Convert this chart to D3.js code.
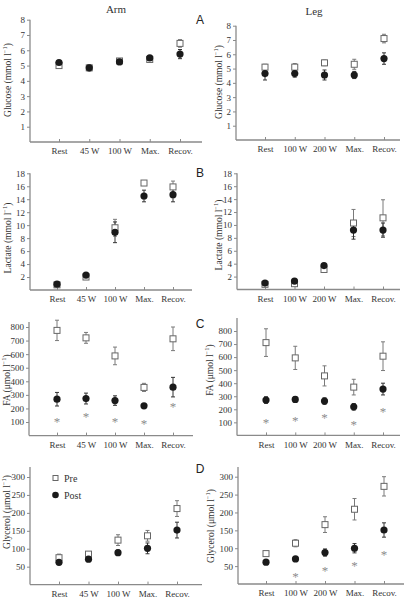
<!DOCTYPE html>
<html><head><meta charset="utf-8">
<script src="https://cdn.jsdelivr.net/npm/d3@7"></script>
<style>body{margin:0;background:#fff}svg{display:block}</style>
</head><body>
<svg id="c" width="408" height="598"></svg>
<script>
const armCategories = ["Rest", "45 W", "100 W", "Max.", "Recov."];
const legCategories = ["Rest", "100 W", "200 W", "Max.", "Recov."];

const glucoseTicks = [1,2,3,4,5,6,7,8];
const lactateTicks = [2,4,6,8,10,12,14,16,18];
const faTicks = [100,200,300,400,500,600,700,800];
const glycerolTicks = [50,100,150,200,250,300];

const armGlucosePre = [5.0, 4.85, 5.3, 5.4, 6.45];
const armGlucosePreErr = [0.1, 0.1, 0.15, 0.12, 0.25];
const armGlucosePost = [5.2, 4.85, 5.25, 5.5, 5.75];
const armGlucosePostErr = [0.1, 0.2, 0.2, 0.12, 0.3];

const legGlucosePre = [5.1, 5.1, 5.4, 5.3, 7.1];
const legGlucosePreErr = [0.2, 0.25, 0.2, 0.35, 0.3];
const legGlucosePost = [4.65, 4.65, 4.55, 4.55, 5.7];
const legGlucosePostErr = [0.45, 0.25, 0.35, 0.25, 0.4];

const armLactatePre = [0.8, 2.0, 9.6, 16.5, 15.9];
const armLactatePreErr = [0.1, 0.2, 1.3, 0.3, 0.9];
const armLactatePost = [0.9, 2.3, 8.9, 14.5, 14.7];
const armLactatePostErr = [0.1, 0.2, 1.6, 0.9, 1.1];

const legLactatePre = [0.8, 0.9, 3.1, 10.3, 11.1];
const legLactatePreErr = [0.2, 0.2, 0.3, 2.1, 2.8];
const legLactatePost = [1.0, 1.3, 3.7, 9.2, 9.2];
const legLactatePostErr = [0.3, 0.3, 0.3, 1.4, 1.1];

const armFAPre = [775, 720, 587, 355, 713];
const armFAPreErr = [75, 40, 65, 30, 87];
const armFAPost = [268, 273, 258, 219, 357];
const armFAPostErr = [50, 40, 35, 10, 72];
const armFASig = [125, 157, 125, 105, 233];

const legFAPre = [711, 594, 456, 370, 607];
const legFAPreErr = [106, 89, 77, 60, 110];
const legFAPost = [271, 276, 263, 219, 355];
const legFAPostErr = [25, 20, 25, 25, 45];
const legFASig = [117, 138, 155, 105, 207];

const armGlyPre = [75, 85, 124, 136, 212];
const armGlyPreErr = [10, 5, 15, 15, 22];
const armGlyPost = [62, 71, 89, 101, 152];
const armGlyPostErr = [5, 5, 7, 15, 22];
const armGlySig = [null, null, null, null, null];

const legGlyPre = [85, 114, 166, 209, 273];
const legGlyPreErr = [6, 10, 22, 30, 27];
const legGlyPost = [61, 70, 88, 100, 151];
const legGlyPostErr = [5, 5, 10, 13, 20];
const legGlySig = [null, 29, 46, 60, 90];

const svg = d3.select("#c");
const SERIF = "'Liberation Serif','Times New Roman',serif";
const AX = "#8a8a8a";

const panels = [
  {cats: armCategories, pre: armGlucosePre, preE: armGlucosePreErr, post: armGlucosePost, postE: armGlucosePostErr, sig: null,
   ticks: glucoseTicks, dom: [0, 8], yr: [142, 19.7], top: 19.7, ax: 30, xEnd: 202, xr: [59, 180],
   label: "Glucose (mmol l", lx: 8, ly: 80, letter: "A", lety: 24},
  {cats: legCategories, pre: legGlucosePre, preE: legGlucosePreErr, post: legGlucosePost, postE: legGlucosePostErr, sig: null,
   ticks: glucoseTicks, dom: [0, 8], yr: [140, 25.7], top: 25.7, ax: 236, xEnd: 400, xr: [265, 384],
   label: "Glucose (mmol l", lx: 219, ly: 82},
  {cats: armCategories, pre: armLactatePre, preE: armLactatePreErr, post: armLactatePost, postE: armLactatePostErr, sig: null,
   ticks: lactateTicks, dom: [0, 18], yr: [290, 173.3], top: 173.3, ax: 30, xEnd: 192, xr: [57, 173],
   label: "Lactate (mmol l", lx: 8, ly: 238, letter: "B", lety: 177},
  {cats: legCategories, pre: legLactatePre, preE: legLactatePreErr, post: legLactatePost, postE: legLactatePostErr, sig: null,
   ticks: lactateTicks, dom: [0, 18], yr: [289.5, 173.3], top: 173.3, ax: 237, xEnd: 400, xr: [265, 383],
   label: "Lactate (mmol l", lx: 219, ly: 235},
  {cats: armCategories, pre: armFAPre, preE: armFAPreErr, post: armFAPost, postE: armFAPostErr, sig: armFASig,
   ticks: faTicks, dom: [0, 800], yr: [435.6, 327], top: 322, ax: 29, xEnd: 193, xr: [57, 173],
   label: "FA (\u03bcmol l", lx: 6.5, ly: 380, letter: "C", lety: 328},
  {cats: legCategories, pre: legFAPre, preE: legFAPreErr, post: legFAPost, postE: legFAPostErr, sig: legFASig,
   ticks: faTicks, dom: [0, 800], yr: [435.4, 331], top: 318, ax: 237, xEnd: 400, xr: [266, 383],
   label: "FA (\u03bcmol l", lx: 210, ly: 370},
  {cats: armCategories, pre: armGlyPre, preE: armGlyPreErr, post: armGlyPost, postE: armGlyPostErr, sig: armGlySig,
   ticks: glycerolTicks, dom: [0, 300], yr: [584.6, 477], top: 467, ax: 30, xEnd: 202, xr: [59, 177],
   label: "Glycerol (\u03bcmol l", lx: 6.5, ly: 512, letter: "D", lety: 473, legend: true},
  {cats: legCategories, pre: legGlyPre, preE: legGlyPreErr, post: legGlyPost, postE: legGlyPostErr, sig: legGlySig,
   ticks: glycerolTicks, dom: [0, 300], yr: [584, 476.7], top: 467, ax: 238, xEnd: 404, xr: [266, 384],
   label: "Glycerol (\u03bcmol l", lx: 211, ly: 526}
];

svg.append("text").attr("x", 116).attr("y", 13).attr("text-anchor", "middle")
  .style("font-family", SERIF).style("font-size", "11px").attr("fill", "#333").text("Arm");
svg.append("text").attr("x", 314).attr("y", 15).attr("text-anchor", "middle")
  .style("font-family", SERIF).style("font-size", "11px").attr("fill", "#333").text("Leg");

panels.forEach(p => {
  const g = svg.append("g");
  const y = d3.scaleLinear().domain(p.dom).range(p.yr);
  const x = d3.scalePoint().domain(p.cats).range(p.xr);
  const y0 = y(0);

  // y axis
  const yAxis = d3.axisLeft(y).tickValues(p.ticks).tickSize(3).tickSizeOuter(0).tickPadding(2);
  const ya = g.append("g").attr("transform", `translate(${p.ax},0)`).call(yAxis);
  ya.attr("font-family", null).attr("font-size", null);
  ya.select(".domain").remove();
  ya.append("line").attr("x1", 0).attr("x2", 0).attr("y1", y0).attr("y2", p.top)
    .attr("stroke", AX).attr("stroke-width", 1.3);
  ya.selectAll(".tick line").attr("stroke", AX);
  ya.selectAll(".tick text").style("font-family", SERIF).style("font-size", "9px").attr("fill", "#333");

  // x axis
  const xAxis = d3.axisBottom(x).tickSize(-3).tickSizeOuter(0).tickPadding(6);
  const xa = g.append("g").attr("transform", `translate(0,${y0})`).call(xAxis);
  xa.attr("font-family", null).attr("font-size", null);
  xa.select(".domain").remove();
  xa.append("line").attr("x1", p.ax).attr("x2", p.xEnd).attr("y1", 0).attr("y2", 0)
    .attr("stroke", AX).attr("stroke-width", 1.3);
  xa.selectAll(".tick line").attr("stroke", AX);
  xa.selectAll(".tick text").style("font-family", SERIF).style("font-size", "9px").attr("fill", "#333")
    .attr("dy", "0.71em").attr("y", 6);

  // y label
  const lt = g.append("text").attr("transform", `translate(${p.lx},${p.ly}) rotate(-90)`)
    .attr("text-anchor", "middle").attr("dy", "0.35em")
    .style("font-family", SERIF).style("font-size", "9.5px").attr("fill", "#333");
  lt.append("tspan").text(p.label);
  lt.append("tspan").style("font-size", "6.5px").attr("dy", "-0.6em").text("\u22121");
  lt.append("tspan").style("font-size", "9.5px").attr("dy", "0.4em").text(")");

  if (p.letter) {
    svg.append("text").attr("x", 200).attr("y", p.lety).attr("text-anchor", "middle")
      .style("font-family", "'Liberation Sans',Arial,sans-serif").style("font-size", "12px")
      .attr("fill", "#222").text(p.letter);
  }

  const idx = d3.range(p.cats.length);
  const cap = 2;
  const drawErr = (vals, errs, color) => {
    idx.forEach(i => {
      const cx = x(p.cats[i]);
      const yt = y(vals[i] + errs[i]), yb = y(vals[i] - errs[i]);
      g.append("line").attr("x1", cx).attr("x2", cx).attr("y1", yt).attr("y2", yb)
        .attr("stroke", color).attr("stroke-width", 1);
      [yt, yb].forEach(yy => g.append("line").attr("x1", cx - cap).attr("x2", cx + cap)
        .attr("y1", yy).attr("y2", yy).attr("stroke", color).attr("stroke-width", 1));
    });
  };
  drawErr(p.pre, p.preE, "#7a7a7a");
  drawErr(p.post, p.postE, "#333");

  g.selectAll("rect.pre").data(idx).enter().append("rect").attr("class", "pre")
    .attr("x", i => x(p.cats[i]) - 3).attr("y", i => y(p.pre[i]) - 3)
    .attr("width", 6).attr("height", 6)
    .attr("fill", "#fff").attr("stroke", "#666").attr("stroke-width", 1);
  g.selectAll("circle.post").data(idx).enter().append("circle").attr("class", "post")
    .attr("cx", i => x(p.cats[i])).attr("cy", i => y(p.post[i])).attr("r", 3.6)
    .attr("fill", "#1a1a1a");

  if (p.sig) {
    g.selectAll("text.sig").data(idx.filter(i => p.sig[i] != null)).enter().append("text")
      .attr("class", "sig").attr("x", i => x(p.cats[i])).attr("y", i => y(p.sig[i]))
      .attr("dy", "0.55em").attr("text-anchor", "middle")
      .style("font-family", SERIF).style("font-size", "13px").attr("fill", "#8c8c8c")
      .text("*");
  }

  if (p.legend) {
    const lg = g.append("g");
    lg.append("rect").attr("x", 53).attr("y", 475.5).attr("width", 5).attr("height", 5)
      .attr("fill", "#fff").attr("stroke", "#666");
    lg.append("text").attr("x", 64).attr("y", 478).attr("dy", "0.35em")
      .style("font-family", SERIF).style("font-size", "10px").attr("fill", "#333").text("Pre");
    lg.append("circle").attr("cx", 55.5).attr("cy", 495).attr("r", 3.3).attr("fill", "#1a1a1a");
    lg.append("text").attr("x", 64).attr("y", 495).attr("dy", "0.35em")
      .style("font-family", SERIF).style("font-size", "10px").attr("fill", "#333").text("Post");
  }
});
</script>
</body></html>
